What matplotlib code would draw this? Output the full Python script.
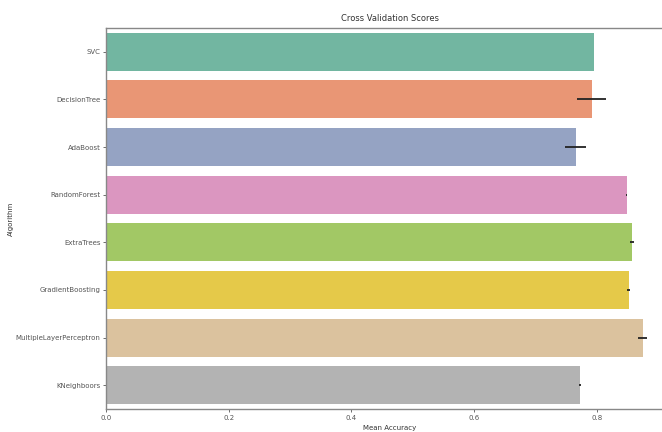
import numpy as np
import matplotlib
matplotlib.use("Agg")
import matplotlib.pyplot as plt
import seaborn as sns

# cross validation results
algorithms = ["SVC", "DecisionTree", "AdaBoost", "RandomForest", "ExtraTrees",
              "GradientBoosting", "MultipleLayerPerceptron", "KNeighboors"]
cv_means = [0.795, 0.792, 0.766, 0.849, 0.857, 0.852, 0.875, 0.773]
cv_std = [0.0, 0.0236, 0.017, 0.001, 0.003, 0.002, 0.007, 0.002]

fsz = 5
colors = [sns.desaturate(c, 0.75) for c in sns.color_palette("Set2", len(algorithms))]

fig = plt.figure(figsize=(6.62, 4.32), dpi=100)
# axes runs past the right edge, like the cropped original
ax = fig.add_axes([106 / 662, 23 / 432, 568 / 662, 381 / 432])

ypos = np.arange(len(algorithms))
ax.barh(ypos, cv_means, height=0.8, color=colors, xerr=cv_std,
        error_kw=dict(ecolor="#222222", elinewidth=1.3))
ax.set_yticks(ypos)
ax.set_yticklabels(algorithms, fontsize=fsz, color="#333333")
ax.set_ylim(len(algorithms) - 0.5, -0.5)
ax.set_xlim(0, 0.926)
ax.set_xticks(np.arange(0, 0.81, 0.2))
ax.set_xticklabels([f"{v:.1f}" for v in np.arange(0, 0.81, 0.2)], fontsize=fsz, color="#333333")
ax.tick_params(length=2, width=0.6, colors="#555555", pad=2)

for s in ax.spines.values():
    s.set_color("#888888")
    s.set_linewidth(1.0)

ax.set_title("Cross Validation Scores", fontsize=6, color="#333333", pad=5)
ax.set_xlabel("Mean Accuracy", fontsize=fsz, color="#333333", labelpad=3)
ax.set_ylabel("Algorithm", fontsize=fsz, color="#333333")
ax.yaxis.set_label_coords(-0.162, 0.5)

fig.savefig("out.png", dpi=100)
